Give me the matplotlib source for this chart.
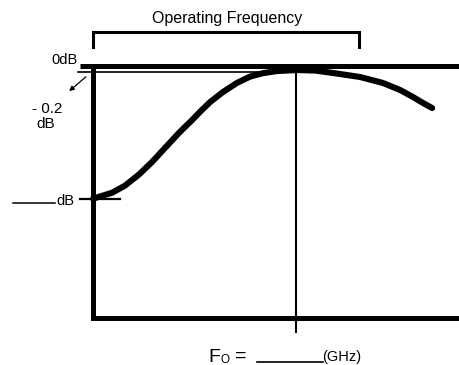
import matplotlib
matplotlib.use("Agg")
import matplotlib.pyplot as plt

plt.rcParams["font.family"] = ["Liberation Sans", "DejaVu Sans"]

# ── Data (schematic frequency response) ──
# x: normalized frequency across the plot box, y: relative response (dB, schematic)
freq = [0.0, 0.016, 0.052, 0.087, 0.125, 0.161, 0.196, 0.234, 0.270, 0.294,
        0.319, 0.354, 0.392, 0.428, 0.463, 0.501, 0.556, 0.605, 0.654, 0.728,
        0.790, 0.837, 0.872, 0.899, 0.924]
resp = [-1.32, -1.30, -1.26, -1.19, -1.08, -0.955, -0.817, -0.668, -0.540, -0.450,
        -0.362, -0.263, -0.173, -0.110, -0.076, -0.055, -0.045, -0.050, -0.074, -0.114,
        -0.173, -0.243, -0.312, -0.371, -0.421]

F0 = 0.553             # center frequency marker
BAND = [0.0, 0.725]    # operating frequency bracket
ZERO_DB = 0.0
MINUS_02_DB = -0.069
LOW_DB = -1.32

W, H = 460, 365
fig = plt.figure(figsize=(W / 100, H / 100), dpi=100)
ax = fig.add_axes([93 / W, (H - 318) / H, 1 - 93 / W, (318 - 65.5) / H])
ax.set_xlim(0, 1)
ax.set_ylim(-2.5, 0)
ax.set_xticks([])
ax.set_yticks([])
for s in ["top", "right"]:
    ax.spines[s].set_visible(False)
for s in ["left", "bottom"]:
    ax.spines[s].set_linewidth(3.6)
    ax.spines[s].set_capstyle("projecting")

# 0 dB line and -0.2 dB line
ax.plot([-0.035, 1.0], [ZERO_DB, ZERO_DB], color="black", lw=3.6, clip_on=False,
        solid_capstyle="butt")
ax.plot([-0.041, 0.55], [MINUS_02_DB, MINUS_02_DB], color="black", lw=1.2,
        clip_on=False)

# response curve
ax.plot(freq, resp, color="black", lw=4.4, solid_capstyle="round",
        solid_joinstyle="round", clip_on=False)

# F0 marker
ax.plot([F0, F0], [ZERO_DB, -2.64], color="black", lw=1.5, clip_on=False)

# low-level tick and blank
ax.plot([-0.035, 0.074], [LOW_DB, LOW_DB], color="black", lw=1.6, clip_on=False)
ax.plot([-0.218, -0.104], [LOW_DB - 0.04, LOW_DB - 0.04], color="black", lw=1.1,
        clip_on=False)

# operating frequency bracket
ax.plot([BAND[0], BAND[0], BAND[1], BAND[1]], [0.183, 0.332, 0.332, 0.183],
        color="black", lw=2.2, clip_on=False, solid_joinstyle="miter")

# arrow from -0.2 dB line to its label
ax.annotate("", xy=(67 / W, 1 - 93 / H), xytext=(88 / W, 1 - 75 / H),
            xycoords="figure fraction", textcoords="figure fraction",
            arrowprops=dict(arrowstyle="-|>", color="black", lw=0.9,
                            mutation_scale=7))


def ftext(px, py, s, **kw):
    fig.text(px / W, 1 - py / H, s, **kw)


ftext(227, 18, "Operating Frequency", ha="center", va="center", fontsize=11.5)
ftext(78, 60, "0dB", ha="right", va="center", fontsize=10.5)
ftext(47, 109, "- 0.2", ha="center", va="center", fontsize=11)
ftext(46, 124, "dB", ha="center", va="center", fontsize=11)
ftext(56, 201, "dB", ha="left", va="center", fontsize=10.5)

# F_O = ______ (GHz)
ftext(208, 362, "F", ha="left", va="baseline", fontsize=14)
ftext(221, 363, "O", ha="left", va="baseline", fontsize=8.5)
ftext(235, 361, "=", ha="left", va="baseline", fontsize=14)
fig.add_artist(plt.Line2D([257 / W, 323 / W], [1 - 361.5 / H, 1 - 361.5 / H],
                          color="black", lw=1.2))
ftext(322, 361, "(GHz)", ha="left", va="baseline", fontsize=10.5)

fig.savefig("out.png", dpi=100)
